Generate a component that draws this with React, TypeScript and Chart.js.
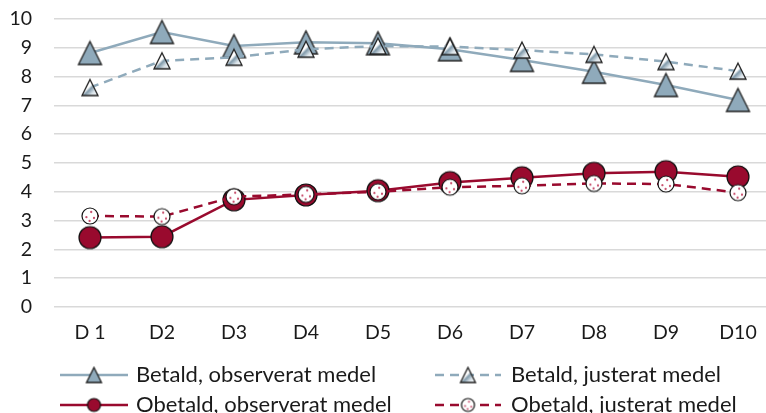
import React, { useEffect, useRef } from "react";
import { Chart, registerables } from "chart.js";

Chart.register(...registerables);

const categories = ["D 1", "D2", "D3", "D4", "D5", "D6", "D7", "D8", "D9", "D10"];
const betaldObserved = [8.82, 9.55, 9.06, 9.19, 9.16, 8.95, 8.58, 8.17, 7.71, 7.19];
const betaldAdjusted = [7.62, 8.55, 8.67, 8.95, 9.06, 9.04, 8.92, 8.77, 8.52, 8.19];
const obetaldObserved = [2.41, 2.44, 3.72, 3.89, 4.04, 4.32, 4.49, 4.64, 4.7, 4.52];
const obetaldAdjusted = [3.16, 3.14, 3.83, 3.91, 4.0, 4.16, 4.21, 4.29, 4.27, 3.97];
const seriesLabels = [
  "Betald, observerat medel",
  "Betald, justerat medel",
  "Obetald, observerat medel",
  "Obetald, justerat medel",
];
const yMin = 0;
const yMax = 10;

const BLUE = "#8faabb";
const RED = "#990a2e";
const FONT = "Lato";

function makeTriangle(size: number, kind: "solid" | "gradient") {
  const pad = 2;
  const c = document.createElement("canvas");
  c.width = size + pad * 2;
  c.height = size + pad * 2;
  const g = c.getContext("2d")!;
  g.beginPath();
  g.moveTo(pad + size / 2, pad);
  g.lineTo(pad + size, pad + size);
  g.lineTo(pad, pad + size);
  g.closePath();
  if (kind === "solid") {
    g.fillStyle = BLUE;
  } else {
    const gr = g.createLinearGradient(pad, pad, pad + size, pad + size);
    gr.addColorStop(0, "#ffffff");
    gr.addColorStop(0.45, "#ffffff");
    gr.addColorStop(0.55, "#7f99aa");
    gr.addColorStop(0.75, "#dbe4ea");
    gr.addColorStop(1, "#ffffff");
    g.fillStyle = gr;
  }
  g.fill();
  g.lineWidth = 1.3;
  g.strokeStyle = "#1f1f1f";
  g.lineJoin = "miter";
  g.stroke();
  return c;
}

function makeCircle(size: number, kind: "solid" | "dots") {
  const pad = 2;
  const c = document.createElement("canvas");
  c.width = size + pad * 2;
  c.height = size + pad * 2;
  const g = c.getContext("2d")!;
  const cx = c.width / 2;
  const cy = c.height / 2;
  const r = size / 2;
  g.beginPath();
  g.arc(cx, cy, r, 0, Math.PI * 2);
  g.fillStyle = kind === "solid" ? RED : "#ffffff";
  g.fill();
  if (kind === "dots") {
    const dots = [
      [0.15, -0.5],
      [-0.45, 0.15],
      [0.5, 0.25],
      [-0.05, 0.62],
    ];
    g.fillStyle = "#c8506e";
    for (const [dx, dy] of dots) {
      g.beginPath();
      g.arc(cx + dx * r, cy + dy * r, Math.max(1, size / 14), 0, Math.PI * 2);
      g.fill();
    }
  }
  g.beginPath();
  g.arc(cx, cy, r, 0, Math.PI * 2);
  g.lineWidth = 1.2;
  g.strokeStyle = "#111111";
  g.stroke();
  return c;
}

export default function App() {
  const ref = useRef<HTMLCanvasElement | null>(null);

  useEffect(() => {
    document.body.style.margin = "0";
    document.body.style.overflow = "hidden";
    const canvas = ref.current!;
    const markers = [
      makeTriangle(23, "solid"),
      makeTriangle(16, "gradient"),
      makeCircle(22, "solid"),
      makeCircle(16, "dots"),
    ];
    const legendMarkers = [
      makeTriangle(15, "solid"),
      makeTriangle(15, "gradient"),
      makeCircle(13, "solid"),
      makeCircle(13, "dots"),
    ];
    const colors = [BLUE, BLUE, RED, RED];
    const dashes = [[], [9, 6], [], [9, 6]];

    const legendPlugin = {
      id: "customLegend",
      afterDraw(chart: any) {
        const ctx = chart.ctx as CanvasRenderingContext2D;
        const cols = [
          { x0: 60, x1: 128, tx: 136 },
          { x0: 435, x1: 501, tx: 511 },
        ];
        const rows = [375, 405];
        [0, 1, 2, 3].forEach((i) => {
          const col = cols[i % 2];
          const y = rows[Math.floor(i / 2)];
          ctx.save();
          ctx.strokeStyle = colors[i];
          ctx.lineWidth = 2.5;
          ctx.setLineDash(dashes[i]);
          ctx.beginPath();
          ctx.moveTo(col.x0, y);
          ctx.lineTo(col.x1, y);
          ctx.stroke();
          ctx.setLineDash([]);
          const m = legendMarkers[i];
          const mx = (col.x0 + col.x1) / 2;
          ctx.drawImage(m, mx - m.width / 2, y - m.height / 2);
          ctx.fillStyle = "#1a1a1a";
          ctx.font = `22px ${FONT}`;
          ctx.textBaseline = "middle";
          ctx.textAlign = "left";
          ctx.fillText(seriesLabels[i], col.tx, y);
          ctx.restore();
        });
      },
    };

    const mk = (i: number, data: number[], ord: number) => ({
      label: seriesLabels[i],
      data,
      borderColor: colors[i],
      backgroundColor: colors[i],
      borderWidth: 2.5,
      borderDash: dashes[i],
      pointStyle: markers[i],
      pointRadius: 10,
      pointHoverRadius: 10,
      tension: 0,
      order: ord,
      clip: false as any,
    });

    const chart = new Chart(canvas, {
      type: "line",
      data: {
        labels: categories,
        datasets: [
          mk(0, betaldObserved, 1),
          mk(1, betaldAdjusted, 0),
          mk(2, obetaldObserved, 1),
          mk(3, obetaldAdjusted, 0),
        ],
      },
      options: {
        animation: false,
        responsive: false,
        layout: { autoPadding: false, padding: { top: 19, right: 8, bottom: 66, left: 0 } },
        plugins: {
          legend: { display: false },
          tooltip: { enabled: false },
        },
        scales: {
          x: {
            offset: true,
            grid: { display: false, drawTicks: false },
            border: { display: false },
            ticks: {
              color: "#1a1a1a",
              font: { family: FONT, size: 19.5 },
              padding: 14,
              maxRotation: 0,
              autoSkip: false,
            },
            afterFit: (s: any) => {
              s.height = 40;
              s.paddingLeft = 0;
              s.paddingRight = 0;
            },
          },
          y: {
            min: yMin,
            max: yMax,
            grid: { color: "#d9d9d9", lineWidth: 1.5, drawTicks: false },
            border: { display: false },
            ticks: {
              stepSize: 1,
              color: "#1a1a1a",
              font: { family: FONT, size: 19.5 },
              padding: 22,
            },
            afterFit: (s: any) => {
              s.width = 54;
              s.paddingTop = 0;
              s.paddingBottom = 0;
            },
          },
        },
      },
      plugins: [legendPlugin],
    });
    return () => chart.destroy();
  }, []);

  return (
    <div style={{ width: 782, height: 413 }}>
      <canvas ref={ref} width={782} height={413} style={{ display: "block" }} />
    </div>
  );
}
